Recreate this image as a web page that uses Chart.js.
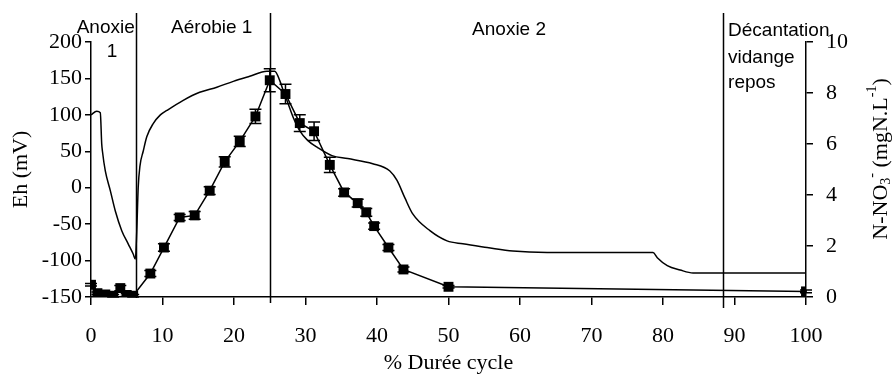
<!DOCTYPE html>
<html><head><meta charset="utf-8">
<script src="https://cdn.jsdelivr.net/npm/chart.js@4.4.1/dist/chart.umd.min.js"></script>
<style>html,body{margin:0;padding:0;background:#fff;}canvas{display:block;}</style>
</head><body>
<canvas id="c" width="892" height="376"></canvas>
<script>
// ---- Data ----
// Eh curve (% cycle duration, mV)
const ehX = [0, 0.8, 1.3, 1.5, 1.6, 2.0, 2.7, 3.4, 4.3, 5.2, 5.9, 6.2, 6.4, 6.6, 6.85, 7.3, 7.8, 8.7, 9.7, 10.6, 12.9, 15.2, 17.6, 19.9, 22.2, 24.6, 25.7, 26.4, 26.9, 27.4, 28.3, 29.2, 30.3, 31.7, 33.7, 35.9, 39.4, 41.8, 42.8, 43.9, 45.0, 47.4, 49.8, 52.0, 55.4, 59.0, 63.8, 71.2, 78.6, 79.2, 80.6, 82.4, 84.2, 100];
const ehY = [100, 105, 103, 60, 50, 23, -4, -32, -59, -77, -91, -98, -60, 0, 30, 50, 70, 88, 100, 106, 120, 131, 138, 146, 153, 160, 160, 147, 133, 120, 96, 78, 65, 55, 44, 40, 33, 23, 10, -14, -36, -59, -73, -77, -82, -87, -89, -89, -89, -96, -107, -113, -117, -117];
// N-NO3 measurements (% cycle duration, mgN/L) and error
const no3X = [0, 0.9, 2.0, 3.1, 4.1, 5.0, 5.9, 8.3, 10.2, 12.4, 14.5, 16.6, 18.7, 20.8, 23.0, 25.0, 27.2, 29.2, 31.2, 33.4, 35.4, 37.3, 38.5, 39.6, 41.6, 43.7, 50, 100];
const no3Y = [0.48, 0.15, 0.1, 0.05, 0.35, 0.08, 0.05, 0.92, 1.94, 3.12, 3.2, 4.17, 5.3, 6.1, 7.08, 8.5, 7.96, 6.82, 6.5, 5.18, 4.1, 3.68, 3.32, 2.78, 1.94, 1.08, 0.4, 0.22];
const no3Err = [0.05, 0.05, 0.05, 0.05, 0.1, 0.05, 0.05, 0.12, 0.15, 0.12, 0.15, 0.15, 0.2, 0.2, 0.28, 0.45, 0.38, 0.33, 0.36, 0.3, 0.15, 0.15, 0.15, 0.12, 0.12, 0.1, 0.05, 0.05];
// Phase boundaries (% cycle) and phase names
const phaseBounds = [6.3, 25.0, 88.4];
const phaseNames = ['Anoxie', '1', 'Aérobie 1', 'Anoxie 2', 'Décantation', 'vidange', 'repos'];

const serif = 'Liberation Serif, Times New Roman, serif';
const sans = 'Liberation Sans, Arial, sans-serif';

const extrasPlugin = {
  id: 'extras',
  afterDatasetsDraw(chart, args, opts) {
    const ctx = chart.ctx, xs = chart.scales.x, y2 = chart.scales.y2, ys = chart.scales.y;
    ctx.save();
    ctx.strokeStyle = '#000';
    ctx.lineWidth = 1.5;
    // error bars
    no3X.forEach((xv, i) => {
      const px = xs.getPixelForValue(xv);
      const a = y2.getPixelForValue(no3Y[i] + no3Err[i]);
      const b = y2.getPixelForValue(Math.max(0, no3Y[i] - no3Err[i]));
      ctx.beginPath();
      ctx.moveTo(px, a); ctx.lineTo(px, b);
      ctx.moveTo(px - 6, a); ctx.lineTo(px + 6, a);
      ctx.moveTo(px - 6, b); ctx.lineTo(px + 6, b);
      ctx.stroke();
    });
    // phase lines
    phaseBounds.forEach((xv, i) => {
      const px = Math.round(xs.getPixelForValue(xv)) + 0.5;
      ctx.beginPath();
      ctx.moveTo(px, 13);
      ctx.lineTo(px, chart.chartArea.bottom + opts.lineExtra[i]);
      ctx.stroke();
    });
    // phase labels
    ctx.fillStyle = '#000';
    ctx.font = '19px ' + sans;
    ctx.textAlign = 'left';
    ctx.textBaseline = 'middle';
    phaseNames.forEach((t, i) => {
      const p = opts.labelPos[i];
      ctx.fillText(t, xs.getPixelForValue(p[0]), ys.getPixelForValue(p[1]));
    });
    // right axis title, rotated, with sub/superscripts
    const segs = [
      {t: 'N-NO', s: 22, dy: 0},
      {t: '3', s: 14, dy: 5},
      {t: '-', s: 14, dy: -9},
      {t: ' (mgN.L', s: 22, dy: 0},
      {t: '-1', s: 14, dy: -9},
      {t: ')', s: 22, dy: 0}
    ];
    let total = 0;
    segs.forEach(sg => { ctx.font = sg.s + 'px ' + serif; sg.w = ctx.measureText(sg.t).width; total += sg.w; });
    ctx.translate(opts.rightTitle[0], opts.rightTitle[1]);
    ctx.rotate(-Math.PI / 2);
    let cx = -total / 2;
    segs.forEach(sg => {
      ctx.font = sg.s + 'px ' + serif;
      ctx.fillText(sg.t, cx, sg.dy);
      cx += sg.w;
    });
    ctx.restore();
  }
};

new Chart(document.getElementById('c'), {
  type: 'line',
  data: {
    datasets: [
      {
        label: 'Eh',
        data: ehX.map((x, i) => ({x, y: ehY[i]})),
        yAxisID: 'y',
        borderColor: '#000',
        borderWidth: 1.5,
        pointRadius: 0,
        cubicInterpolationMode: 'monotone',
        fill: false
      },
      {
        label: 'N-NO3',
        data: no3X.map((x, i) => ({x, y: no3Y[i]})),
        yAxisID: 'y2',
        borderColor: '#000',
        backgroundColor: '#000',
        borderWidth: 1.5,
        pointStyle: 'rect',
        pointRadius: 7,
        pointBorderWidth: 0,
        pointBackgroundColor: '#000',
        tension: 0,
        fill: false
      }
    ]
  },
  options: {
    responsive: false,
    animation: false,
    devicePixelRatio: 1,
    layout: {padding: {top: 42, left: 0, right: 0, bottom: 0}},
    plugins: {
      legend: {display: false},
      tooltip: {enabled: false},
      extras: {
        lineExtra: [1, 6, 11],
        labelPos: [[-2, 220], [2.2, 186], [11.2, 220], [53.3, 217], [89.1, 216], [89.1, 179], [89.1, 144]],
        rightTitle: [881, 159]
      }
    },
    scales: {
      x: {
        type: 'linear', min: 0, max: 100, position: 'bottom',
        ticks: {stepSize: 10, font: {family: serif, size: 22}, color: '#000', padding: 18, maxRotation: 0},
        grid: {drawOnChartArea: false, tickLength: 8, color: '#000', lineWidth: 1.5},
        border: {color: '#000', width: 1.5},
        title: {display: true, text: '% Durée cycle', font: {family: serif, size: 22}, color: '#000', padding: {top: 0, bottom: 0}},
        afterFit(s) { s.height = 79; }
      },
      y: {
        type: 'linear', position: 'left', min: -150, max: 200,
        ticks: {stepSize: 50, font: {family: serif, size: 22}, color: '#000', padding: 3},
        grid: {drawOnChartArea: false, tickLength: 6, color: '#000', lineWidth: 1.5},
        border: {color: '#000', width: 1.5},
        title: {display: true, text: 'Eh (mV)', font: {family: serif, size: 22}, color: '#000', padding: {top: 8, bottom: 0}},
        afterFit(s) { s.width = 91; }
      },
      y2: {
        type: 'linear', position: 'right', min: 0, max: 10,
        ticks: {stepSize: 2, font: {family: serif, size: 22}, color: '#000', padding: 13},
        grid: {drawOnChartArea: false, tickLength: 7, color: '#000', lineWidth: 1.5},
        border: {color: '#000', width: 1.5},
        afterFit(s) { s.width = 86; }
      }
    }
  },
  plugins: [extrasPlugin]
});
</script>
</body></html>
